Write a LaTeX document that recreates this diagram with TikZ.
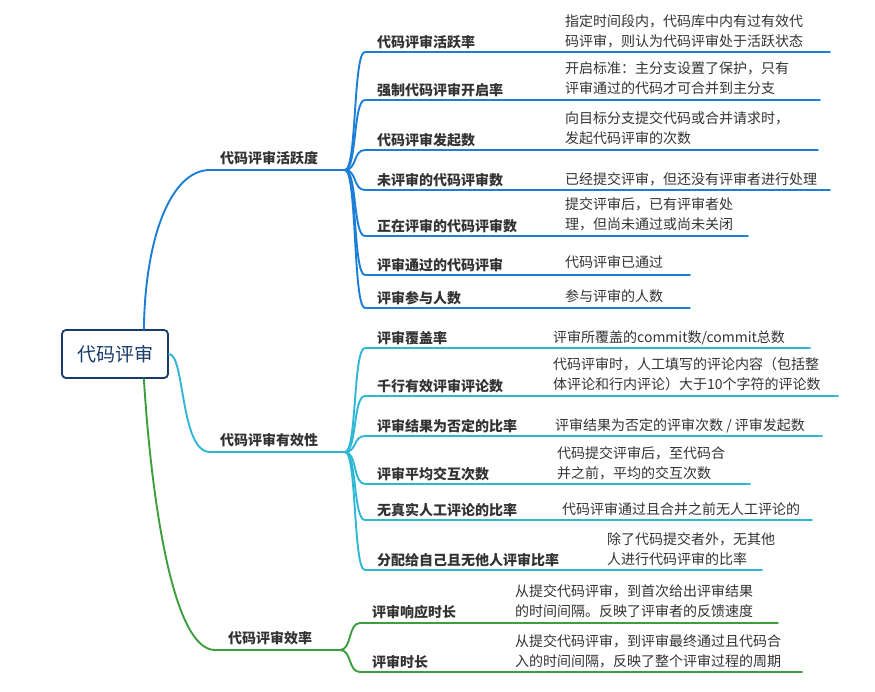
\documentclass[tikz,border=0pt]{standalone}
\usepackage{fontspec}
\setmainfont{Noto Sans CJK SC}
\definecolor{cb}{HTML}{1B7FD8}
\definecolor{cc}{HTML}{2EB8D4}
\definecolor{cg}{HTML}{3C9E3C}
\definecolor{ink}{HTML}{333333}
\definecolor{navy}{HTML}{1A3A6A}
\tikzset{
 lbl/.style={anchor=west,inner sep=0pt,font=\fontsize{14}{16}\selectfont\bfseries,text=ink},
 desc/.style={anchor=north west,inner sep=0pt,align=left,font=\fontsize{14}{20}\selectfont,text=ink},
 br/.style={line width=1.9pt,line cap=round},
 rootbox/.style={draw=navy,line width=1.8pt,rounded corners=4pt,minimum width=106pt,minimum height=48pt,font=\fontsize{19}{22}\selectfont,text=navy}
}
\newcommand{\kid}[9]{% name color ly label descx firstline desc lineend branchend
 \node[lbl] (#1) at (377,#3-10) {#4};
 \node[desc] (#1d) at (#5,#6-8) {#7};
 \coordinate (#1s) at (365,#3); \coordinate (#1e) at (#8,#3);
 \draw[br,#2] (#9) .. controls ($(#9)+(12,0)$) and ($(#1s)+(-12,0)$) .. (#1s) -- (#1e);
}
\usetikzlibrary{calc}
\begin{document}
\begin{tikzpicture}[x=1pt,y=-1pt]
\fill[white] (0,0) rectangle (875,691);
\useasboundingbox (0,0) rectangle (875,691);
\node[rootbox] (root) at (115,354) {代码评审};
% branch 1
\node[lbl] (b1) at (220,158) {代码评审活跃度};
\coordinate (b1s) at (210,170); \coordinate (b1e) at (345,170);
\draw[br,cb] ([xshift=-25pt]root.north east) .. controls (145,240) and (170,170) .. (b1s) -- (b1e);
\kid{a1}{cb}{52}{代码评审活跃率}{565}{22}{指定时间段内，代码库中内有过有效代\\码评审，则认为代码评审处于活跃状态}{830}{b1e}
\kid{a2}{cb}{100}{强制代码评审开启率}{565}{70}{开启标准：主分支设置了保护，只有\\评审通过的代码才可合并到主分支}{820}{b1e}
\kid{a3}{cb}{150}{代码评审发起数}{565}{119}{向目标分支提交代码或合并请求时，\\发起代码评审的次数}{818}{b1e}
\kid{a4}{cb}{190}{未评审的代码评审数}{565}{180}{已经提交评审，但还没有评审者进行处理}{830}{b1e}
\kid{a5}{cb}{236}{正在评审的代码评审数}{565}{205}{提交评审后，已有评审者处\\理，但尚未通过或尚未关闭}{748}{b1e}
\kid{a6}{cb}{275}{评审通过的代码评审}{565}{263}{代码评审已通过}{690}{b1e}
\kid{a7}{cb}{308}{评审参与人数}{565}{297}{参与评审的人数}{690}{b1e}
% branch 2
\node[lbl] (b2) at (220,440) {代码评审有效性};
\coordinate (b2s) at (210,452); \coordinate (b2e) at (345,452);
\draw[br,cc] (root.east) .. controls (185,354) and (180,452) .. (b2s) -- (b2e);
\kid{c1}{cc}{348}{评审覆盖率}{553}{338}{评审所覆盖的commit数/commit总数}{810}{b2e}
\kid{c2}{cc}{396}{千行有效评审评论数}{553}{365}{代码评审时，人工填写的评论内容（包括整\\体评论和行内评论）大于10个字符的评论数}{838}{b2e}
\kid{c3}{cc}{436}{评审结果为否定的比率}{555}{426}{评审结果为否定的评审次数 / 评审发起数}{822}{b2e}
\kid{c4}{cc}{484}{评审平均交互次数}{557}{454}{代码提交评审后，至代码合\\并之前，平均的交互次数}{750}{b2e}
\kid{c5}{cc}{520}{无真实人工评论的比率}{562}{510}{代码评审通过且合并之前无人工评论的}{812}{b2e}
\kid{c6}{cc}{570}{分配给自己且无他人评审比率}{607}{540}{除了代码提交者外，无其他\\人进行代码评审的比率}{762}{b2e}
% branch 3
\node[lbl] (b3) at (228,638) {代码评审效率};
\coordinate (b3s) at (215,650); \coordinate (b3e) at (340,650);
\draw[br,cg] ([xshift=-25pt]root.south east) .. controls (150,480) and (170,650) .. (b3s) -- (b3e);
\node[lbl] (e1) at (372,612) {评审响应时长};
\node[desc] (e1d) at (515,584) {从提交代码评审，到首次给出评审结果\\的时间间隔。反映了评审者的反馈速度};
\coordinate (e1s) at (360,623); \coordinate (e1e) at (778,623);
\draw[br,cg] (b3e) .. controls (352,650) and (348,623) .. (e1s) -- (e1e);
\node[lbl] (e2) at (372,662) {评审时长};
\node[desc] (e2d) at (515,634) {从提交代码评审，到评审最终通过且代码合\\入的时间间隔，反映了整个评审过程的周期};
\coordinate (e2s) at (360,672); \coordinate (e2e) at (802,672);
\draw[br,cg] (b3e) .. controls (352,650) and (348,672) .. (e2s) -- (e2e);
\end{tikzpicture}
\end{document}
